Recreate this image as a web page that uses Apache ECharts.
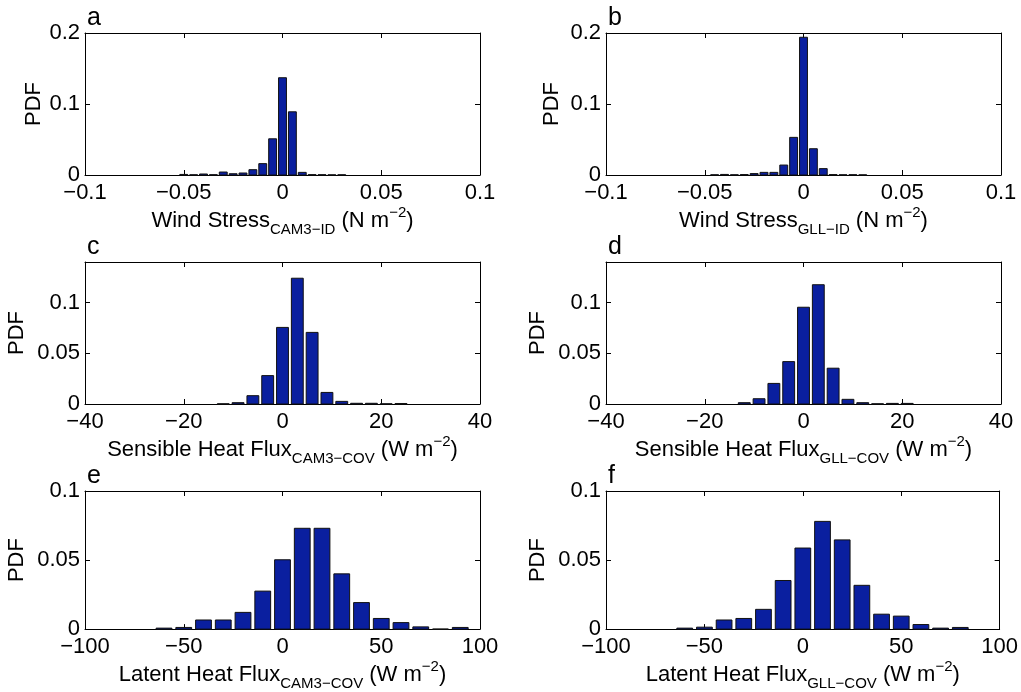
<!DOCTYPE html>
<html>
<head>
<meta charset="utf-8">
<script src="https://cdn.jsdelivr.net/npm/echarts@6/dist/echarts.min.js"></script>
<style>
html,body{margin:0;padding:0;background:#fff;}
#chart{width:1021px;height:692px;}
</style>
</head>
<body>
<div id="chart"></div>
<script>
// ---- data (bin centres and PDF values) ----
const aCenters = [-0.05,-0.045,-0.04,-0.035,-0.03,-0.025,-0.02,-0.015,-0.01,-0.005,0,0.005,0.01,0.015,0.02,0.025,0.03];
const aPdf     = [0.0008,0.0003,0.0014,0.0004,0.0042,0.0018,0.0028,0.0075,0.016,0.051,0.137,0.089,0.0037,0.0005,0.0004,0.0002,0.0003];

const bCenters = [-0.045,-0.04,-0.035,-0.03,-0.025,-0.02,-0.015,-0.01,-0.005,0,0.005,0.01,0.015,0.02,0.025,0.03];
const bPdf     = [0.0003,0.0008,0.0003,0.0006,0.002,0.0037,0.0037,0.014,0.053,0.194,0.037,0.009,0.0006,0.0003,0.0004,0.0002];

const cCenters = [-12,-9,-6,-3,0,3,6,9,12,15,18,21,24];
const cPdf     = [0.0002,0.0013,0.0082,0.028,0.0755,0.124,0.0706,0.0114,0.0026,0.0007,0.0007,0.0002,0.0005];

const dCenters = [-12,-9,-6,-3,0,3,6,9,12,15,18,21];
const dPdf     = [0.0013,0.0052,0.0203,0.0418,0.0954,0.1176,0.0353,0.0046,0.0013,0.0002,0.0006,0.0006];

const eCenters = [-60,-50,-40,-30,-20,-10,0,10,20,30,40,50,60,70,80,90];
const ePdf     = [0.0007,0.0012,0.0066,0.0066,0.0121,0.0275,0.0502,0.073,0.073,0.040,0.0192,0.0077,0.0047,0.0016,0,0.0012];

const fCenters = [-60,-50,-40,-30,-20,-10,0,10,20,30,40,50,60,70,80];
const fPdf     = [0.0007,0.0014,0.0066,0.0077,0.0143,0.0352,0.0587,0.078,0.0646,0.0317,0.0108,0.0094,0.0033,0.0007,0.0012];

const windTicks  = [-0.1,-0.05,0,0.05,0.1];
const shTicks    = [-40,-20,0,20,40];
const lhTicks    = [-100,-50,0,50,100];

const panelLetters = ['a','b','c','d','e','f'];
const xTitles = [
  ['Wind Stress','CAM3\u2212ID','N m'],
  ['Wind Stress','GLL\u2212ID','N m'],
  ['Sensible Heat Flux','CAM3\u2212COV','W m'],
  ['Sensible Heat Flux','GLL\u2212COV','W m'],
  ['Latent Heat Flux','CAM3\u2212COV','W m'],
  ['Latent Heat Flux','GLL\u2212COV','W m']
];

// ---- layout / style ----
const FONT = 'Liberation Sans, Arial, Helvetica, sans-serif';
const FS = 22;
const FILL = '#0a1f9f';
const panels = [
  {c:aCenters, v:aPdf, bin:0.005, xmin:-0.1, xmax:0.1, xint:0.05, ymax:0.2, yint:0.1, left:85, top:33, ng:40},
  {c:bCenters, v:bPdf, bin:0.005, xmin:-0.1, xmax:0.1, xint:0.05, ymax:0.2, yint:0.1, left:606, top:33, ng:43},
  {c:cCenters, v:cPdf, bin:3, xmin:-40, xmax:40, xint:20, ymax:0.14, yint:0.05, left:85, top:262, ng:57},
  {c:dCenters, v:dPdf, bin:3, xmin:-40, xmax:40, xint:20, ymax:0.14, yint:0.05, left:606, top:262, ng:57},
  {c:eCenters, v:ePdf, bin:10, xmin:-100, xmax:100, xint:50, ymax:0.1, yint:0.05, left:85, top:491, ng:57},
  {c:fCenters, v:fPdf, bin:10, xmin:-100, xmax:100, xint:50, ymax:0.1, yint:0.05, left:606, top:491, ng:57}
];
const W = 395, H = 142;

function fmt(v){
  let s = String(Math.round(v*1e6)/1e6);
  return s.replace('-', '\u2212');
}
function yfmt(max, step){
  return function(v){
    const k = Math.round(v/step);
    if (Math.abs(k*step - v) > 1e-9) return '';
    return fmt(v);
  };
}

const grids=[], xAxes=[], yAxes=[], series=[], graphics=[];
const rich = {
  m:{fontSize:FS, fontFamily:FONT, color:'#000', lineHeight:32, verticalAlign:'middle'},
  s:{fontSize:15, fontFamily:FONT, color:'#000', lineHeight:15, verticalAlign:'bottom'},
  p:{fontSize:15, fontFamily:FONT, color:'#000', lineHeight:15, verticalAlign:'top'}
};
panels.forEach((p,i)=>{
  grids.push({left:p.left, top:p.top, width:W, height:H, containLabel:false});
  const t = xTitles[i];
  const axLine = {show:true, onZero:false, lineStyle:{color:'#000', width:1}};
  const tick = {show:true, inside:true, length:5, lineStyle:{color:'#000'}};
  xAxes.push({gridIndex:i, type:'value', position:'bottom', min:p.xmin, max:p.xmax, interval:p.xint,
    axisLine:axLine, axisTick:tick, splitLine:{show:false},
    axisLabel:{fontSize:FS, fontFamily:FONT, color:'#000', margin:7, formatter:fmt},
    name:'{m|'+t[0]+'}{s|'+t[1]+'}{m| ('+t[2]+'}{p|\u22122}{m|)}',
    nameLocation:'middle', nameGap:26, nameTextStyle:{rich:rich}
  });
  xAxes.push({gridIndex:i, type:'value', position:'top', min:p.xmin, max:p.xmax, interval:p.xint,
    axisLine:axLine, axisTick:tick, splitLine:{show:false}, axisLabel:{show:false}});
  yAxes.push({gridIndex:i, type:'value', position:'left', min:0, max:p.ymax, interval:p.yint,
    axisLine:axLine, axisTick:tick, splitLine:{show:false},
    axisLabel:{fontSize:FS, fontFamily:FONT, color:'#000', margin:5, formatter:yfmt(p.ymax,p.yint), showMaxLabel: (p.ymax===0.2||p.ymax===0.1)},
    name:'PDF', nameLocation:'middle', nameGap:p.ng,
    nameTextStyle:{fontSize:FS, fontFamily:FONT, color:'#000'}
  });
  yAxes.push({gridIndex:i, type:'value', position:'right', min:0, max:p.ymax, interval:p.yint,
    axisLine:axLine, axisTick:tick, splitLine:{show:false}, axisLabel:{show:false}});
  const bin = p.bin;
  series.push({
    type:'custom', xAxisIndex:2*i, yAxisIndex:2*i,
    data:p.c.map((c,k)=>[c, p.v[k]]),
    encode:{x:0, y:1},
    renderItem:function(params, api){
      const x = api.value(0), y = api.value(1);
      const p0 = api.coord([x - bin*0.4, y]);
      const p1 = api.coord([x + bin*0.4, 0]);
      return {type:'rect', shape:{x:p0[0], y:p0[1], width:p1[0]-p0[0], height:p1[1]-p0[1]},
        style:{fill:FILL, stroke:'#111', lineWidth:1}};
    },
    silent:true, animation:false
  });
  graphics.push({type:'text', left:p.left+2, top:p.top-27,
    style:{text:panelLetters[i], font:'25px '+FONT, fill:'#000'}});
});

const chart = echarts.init(document.getElementById('chart'), null, {renderer:'canvas'});
chart.setOption({
  animation:false,
  backgroundColor:'#fff',
  grid:grids, xAxis:xAxes, yAxis:yAxes, series:series, graphic:graphics
});
</script>
</body>
</html>
